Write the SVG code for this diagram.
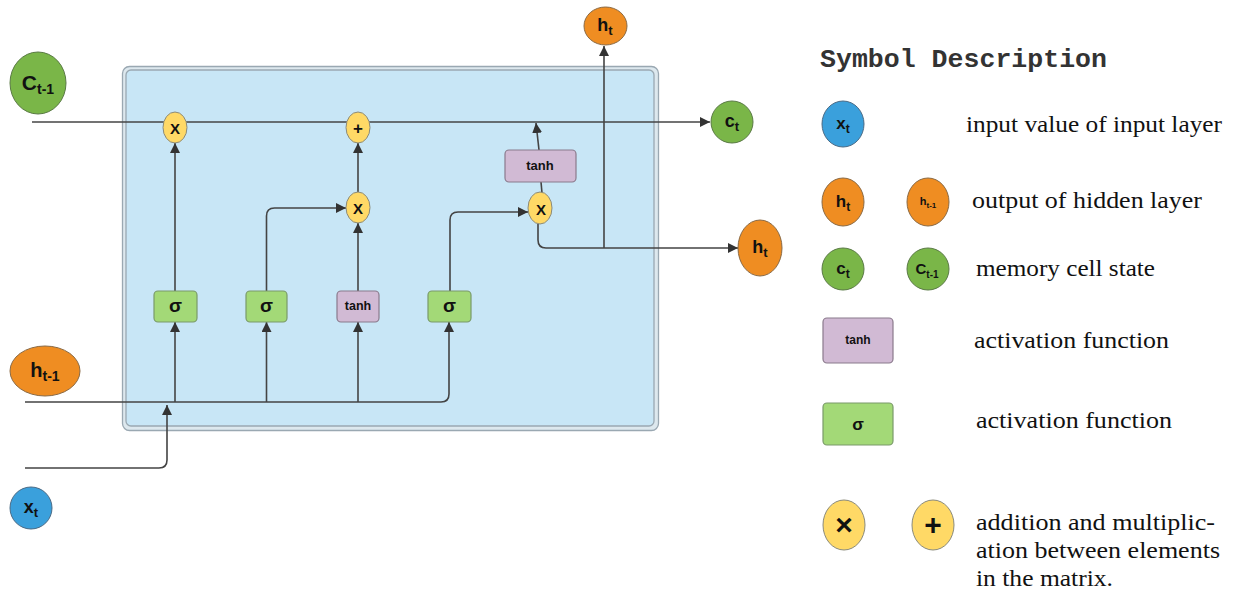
<svg xmlns="http://www.w3.org/2000/svg" width="1233" height="593" viewBox="0 0 1233 593">
<defs>
<marker id="arr" viewBox="0 0 10 10" refX="10" refY="5" markerWidth="10" markerHeight="10" markerUnits="userSpaceOnUse" orient="auto">
<path d="M0,0 L10,5 L0,10 z" fill="#333"/>
</marker>
</defs>
<style>
.ln{fill:none;stroke:#444;stroke-width:1.6}
.op{fill:#ffd966;stroke:#8a8a7a;stroke-width:1}
.grn{fill:#7ab648;stroke:#5a7a45;stroke-width:1}
.org{fill:#ef8d22;stroke:#8a6a45;stroke-width:1}
.blu{fill:#3aa0dc;stroke:#4a6a85;stroke-width:1}
.sig{fill:#a3d977;stroke:#7a9a6a;stroke-width:1.2}
.tnh{fill:#d1bad4;stroke:#8a7a8c;stroke-width:1.2}
.lbl{font-family:"Liberation Sans",Arial,sans-serif;font-weight:bold;fill:#111;text-anchor:middle}
.desc{font-family:"Liberation Serif","Times New Roman",serif;font-size:22.5px;fill:#111}
</style>
<g id="cell-box">
<rect x="122.5" y="66.5" width="536" height="364" rx="7" fill="#dde8ee" stroke="#9aa8b2" stroke-width="1.3"/>
<rect x="126" y="70" width="528" height="356" rx="5" fill="#c8e6f6" stroke="#9aa8b2" stroke-width="1.3"/>
</g>
<g id="connectors">
<path class="ln" d="M32,122 H710" marker-end="url(#arr)"/>
<path class="ln" d="M25,402 H441 Q449,402 449,394 V322" marker-end="url(#arr)"/>
<path class="ln" d="M25,468 H159 Q167,468 167,460 V405" marker-end="url(#arr)"/>
<path class="ln" d="M175,402 V322" marker-end="url(#arr)"/>
<path class="ln" d="M266.5,402 V322" marker-end="url(#arr)"/>
<path class="ln" d="M358,402 V322" marker-end="url(#arr)"/>
<path class="ln" d="M175,291 V143" marker-end="url(#arr)"/>
<path class="ln" d="M266.5,291 V216 Q266.5,208 274.5,208 H346" marker-end="url(#arr)"/>
<path class="ln" d="M358,291 V223" marker-end="url(#arr)"/>
<path class="ln" d="M358,192 V143" marker-end="url(#arr)"/>
<path class="ln" d="M450,291 V220 Q450,212 458,212 H528" marker-end="url(#arr)"/>
<path class="ln" d="M542,193 L541,182"/>
<path class="ln" d="M539,150 L536,123" marker-end="url(#arr)"/>
<path class="ln" d="M538,224 V240 Q538,248 546,248 H738" marker-end="url(#arr)"/>
<path class="ln" d="M604,248 V46" marker-end="url(#arr)"/>
</g>
<g id="c_prev"><ellipse class="grn" cx="38" cy="83" rx="28" ry="31"/><text class="lbl" x="38" y="90" font-size="21">C<tspan font-size="14" dy="4">t-1</tspan></text></g>
<g id="h_prev"><ellipse class="org" cx="45" cy="371" rx="35" ry="25"/><text class="lbl" x="45" y="377" font-size="20">h<tspan font-size="14" dy="4">t-1</tspan></text></g>
<g id="x_t"><ellipse class="blu" cx="31" cy="508" rx="21" ry="21"/><text class="lbl" x="31" y="513" font-size="18">x<tspan font-size="13" dy="4">t</tspan></text></g>
<g id="mul1"><ellipse class="op" cx="175" cy="127.5" rx="12" ry="15.5"/><text class="lbl" x="175" y="134" font-size="15" font-weight="normal">X</text></g>
<g id="add1"><ellipse class="op" cx="358" cy="127.5" rx="12" ry="15.5"/><text class="lbl" x="358" y="134" font-size="17">+</text></g>
<g id="mul2"><ellipse class="op" cx="358" cy="207.5" rx="12" ry="15.5"/><text class="lbl" x="358" y="214" font-size="15" font-weight="normal">X</text></g>
<g id="mul3"><ellipse class="op" cx="540" cy="208" rx="12" ry="16"/><text class="lbl" x="541" y="215" font-size="15" font-weight="normal">X</text></g>
<g id="sig1"><rect class="sig" x="154" y="291" width="43" height="31" rx="4"/><text class="lbl" x="175.5" y="312" font-size="19">σ</text></g>
<g id="sig2"><rect class="sig" x="246" y="291" width="41" height="31" rx="4"/><text class="lbl" x="266.5" y="312" font-size="19">σ</text></g>
<g id="tanh1"><rect class="tnh" x="337" y="291" width="42" height="31" rx="4"/><text class="lbl" x="358" y="310" font-size="12.5">tanh</text></g>
<g id="sig3"><rect class="sig" x="428" y="291" width="43" height="31" rx="4"/><text class="lbl" x="449.5" y="312" font-size="19">σ</text></g>
<g id="tanh2"><rect class="tnh" x="505" y="150" width="71" height="32" rx="4"/><text class="lbl" x="540" y="170" font-size="13">tanh</text></g>
<g id="h_top"><ellipse class="org" cx="605.5" cy="26" rx="21.5" ry="19"/><text class="lbl" x="605" y="31" font-size="18">h<tspan font-size="13" dy="4">t</tspan></text></g>
<g id="c_t"><ellipse class="grn" cx="732" cy="122" rx="21" ry="21"/><text class="lbl" x="732" y="127" font-size="18">c<tspan font-size="13" dy="4">t</tspan></text></g>
<g id="h_right"><ellipse class="org" cx="760" cy="248" rx="22" ry="28"/><text class="lbl" x="760" y="253" font-size="18">h<tspan font-size="13" dy="4">t</tspan></text></g>
<g id="legend">
<text x="820" y="67" font-family="'Liberation Mono','Courier New',monospace" font-weight="bold" font-size="26" fill="#333" textLength="287" lengthAdjust="spacingAndGlyphs">Symbol Description</text>
<g id="lg-x"><ellipse class="blu" cx="843" cy="124" rx="21" ry="23"/><text class="lbl" x="843" y="129" font-size="17">x<tspan font-size="12" dy="4">t</tspan></text></g>
<text class="desc" x="966" y="132" textLength="256" lengthAdjust="spacingAndGlyphs">input value of input layer</text>
<g id="lg-h"><ellipse class="org" cx="843" cy="202" rx="21" ry="24"/><text class="lbl" x="843" y="207" font-size="17">h<tspan font-size="12" dy="4">t</tspan></text></g>
<g id="lg-hprev"><ellipse class="org" cx="928" cy="202" rx="21" ry="24"/><text class="lbl" x="928" y="205" font-size="11">h<tspan font-size="8" dy="3">t-1</tspan></text></g>
<text class="desc" x="972" y="208" textLength="230" lengthAdjust="spacingAndGlyphs">output of hidden layer</text>
<g id="lg-c"><ellipse class="grn" cx="843" cy="269" rx="21" ry="21"/><text class="lbl" x="843" y="274" font-size="17">c<tspan font-size="12" dy="4">t</tspan></text></g>
<g id="lg-cprev"><ellipse class="grn" cx="928" cy="269" rx="21" ry="21"/><text class="lbl" x="927" y="274" font-size="15">C<tspan font-size="10" dy="4">t-1</tspan></text></g>
<text class="desc" x="976" y="276" textLength="179" lengthAdjust="spacingAndGlyphs">memory cell state</text>
<g id="lg-tanh"><rect class="tnh" x="823" y="318" width="70" height="45" rx="4"/><text class="lbl" x="858" y="344" font-size="12">tanh</text></g>
<text class="desc" x="974" y="348" textLength="195" lengthAdjust="spacingAndGlyphs">activation function</text>
<g id="lg-sig"><rect class="sig" x="823" y="403" width="70" height="42" rx="4"/><text class="lbl" x="858" y="430" font-size="17">σ</text></g>
<text class="desc" x="976" y="428" textLength="196" lengthAdjust="spacingAndGlyphs">activation function</text>
<g id="lg-mul"><ellipse class="op" cx="844" cy="525" rx="21" ry="25"/><text class="lbl" x="844" y="535" font-size="30" fill="#333">×</text></g>
<g id="lg-add"><ellipse class="op" cx="933" cy="525" rx="21" ry="25"/><text class="lbl" x="933" y="535" font-size="30" fill="#333">+</text></g>
<text class="desc" x="976" y="530" textLength="239" lengthAdjust="spacingAndGlyphs">addition and multiplic-</text>
<text class="desc" x="976" y="558" textLength="244" lengthAdjust="spacingAndGlyphs">ation between elements</text>
<text class="desc" x="976" y="586" textLength="137" lengthAdjust="spacingAndGlyphs">in the matrix.</text>
</g>
</svg>
